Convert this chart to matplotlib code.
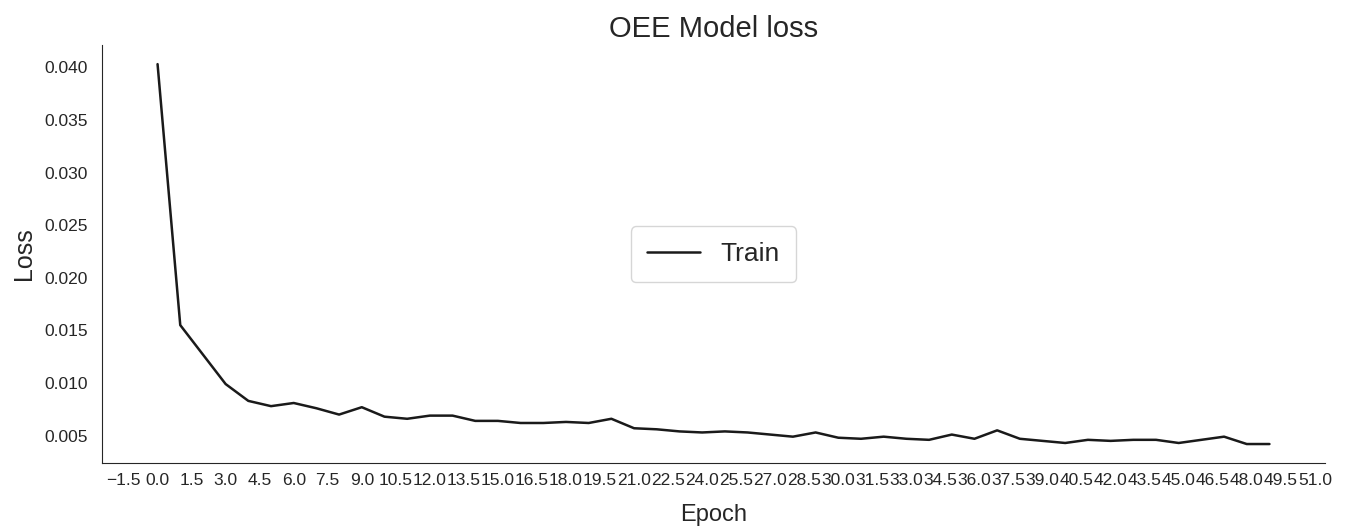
import numpy as np
import matplotlib
matplotlib.use('Agg')
import matplotlib.pyplot as plt
import seaborn as sns

# training loss per epoch
epochs = list(range(50))
train_loss = [
    0.0403, 0.0155, 0.0127, 0.0099, 0.0083, 0.0078, 0.0081, 0.0076, 0.0070, 0.0077,
    0.0068, 0.0066, 0.0069, 0.0069, 0.0064, 0.0064, 0.0062, 0.0062, 0.0063, 0.0062,
    0.0066, 0.0057, 0.0056, 0.0054, 0.0053, 0.0054, 0.0053, 0.0051, 0.0049, 0.0053,
    0.0048, 0.0047, 0.0049, 0.0047, 0.0046, 0.0051, 0.0047, 0.0055, 0.0047, 0.0045,
    0.0043, 0.0046, 0.0045, 0.0046, 0.0046, 0.0043, 0.0046, 0.0049, 0.0042, 0.0042,
]
xtick_values = np.arange(-1.5, 51.1, 1.5)
ytick_values = [0.005, 0.010, 0.015, 0.020, 0.025, 0.030, 0.035, 0.040]

sns.set_style('white')
plt.rcParams['font.family'] = ['Liberation Sans', 'DejaVu Sans']

fig = plt.figure(figsize=(13.47, 5.31), dpi=100)
ax = fig.add_axes([0.0757, 0.128, 0.908, 0.787])

ax.plot(epochs, train_loss, color='#1a1a1a', linewidth=1.8, label='Train')

ax.set_xticks(xtick_values)
ax.set_xticklabels([f'{v:.1f}'.replace('-', '\u2212') for v in xtick_values])
ax.set_yticks(ytick_values)
ax.set_yticklabels([f'{v:.3f}' for v in ytick_values])
ax.tick_params(axis='both', labelsize=12.5, colors='.15')
ax.tick_params(axis='y', pad=6.5)
ax.tick_params(axis='x', pad=4)

ax.set_title('OEE Model loss', fontsize=21, color='.15', pad=6)
ax.set_xlabel('Epoch', fontsize=17, color='.15', labelpad=11)
ax.set_ylabel('Loss', fontsize=18, color='.15', labelpad=6)
ax.legend(loc='center', fontsize=19, borderpad=0.6)

sns.despine(ax=ax)

fig.savefig('out.png', dpi=100)
